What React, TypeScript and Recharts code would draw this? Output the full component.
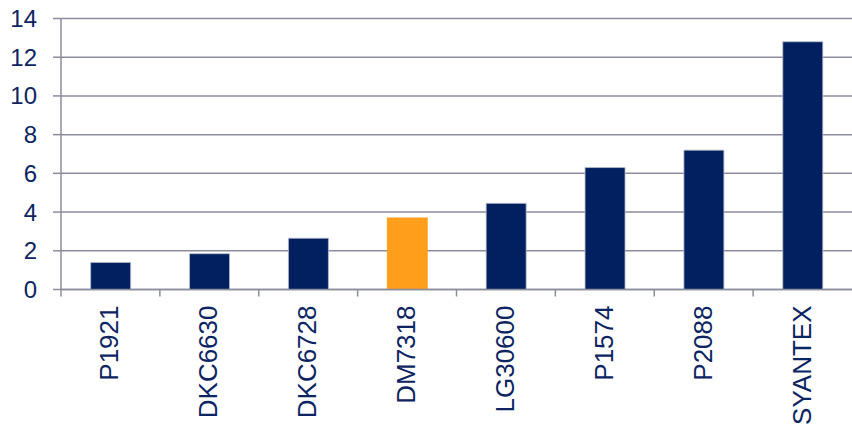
import React from "react";
import { BarChart, Bar, XAxis, YAxis, CartesianGrid, Cell } from "recharts";

const products = ["P1921", "DKC6630", "DKC6728", "DM7318", "LG30600", "P1574", "P2088", "SYANTEX"];
const values = [1.4, 1.85, 2.65, 3.7, 4.45, 6.3, 7.2, 12.8];
const highlighted = "DM7318";
const yTicks = [0, 2, 4, 6, 8, 10, 12, 14];

const NAVY = "#022060";
const ORANGE = "#FF9E1B";
const GRID = "#8b8d9d";
const TEXT = "#0c2461";
const FONT = "'Liberation Sans', Arial, sans-serif";

const data = products.map((name, i) => ({ name, value: values[i] }));

// category labels run bottom-to-top; tick marks sit on the band edges
function ProductTick(props: any) {
  const { x, y, payload } = props;
  const half = payload?.offset ?? 49.4;
  const bx = x + 8;
  const by = y + 16;
  return (
    <g>
      <line x1={x - half} y1={y} x2={x - half} y2={y + 7} stroke={GRID} strokeWidth={1.5} />
      <text
        x={bx}
        y={by}
        transform={`rotate(-90, ${bx}, ${by})`}
        textAnchor="end"
        fill={TEXT}
        fontSize={26}
        fontFamily={FONT}
      >
        {payload.value}
      </text>
    </g>
  );
}

export default function App() {
  return (
    <div style={{ position: "absolute", left: 0, top: 0, width: 852, height: 430, background: "#fff" }}>
      <BarChart
        width={852}
        height={430}
        data={data}
        margin={{ top: 18.5, right: 0, bottom: 0, left: 0 }}
        barCategoryGap="30%"
      >
        <CartesianGrid vertical={false} stroke={GRID} strokeWidth={1.5} />
        <XAxis
          dataKey="name"
          height={140.5}
          interval={0}
          axisLine={{ stroke: GRID, strokeWidth: 1.5 }}
          tickLine={false}
          tickSize={0}
          tickMargin={0}
          tick={<ProductTick />}
        />
        <YAxis
          width={61}
          domain={[0, 14]}
          ticks={yTicks}
          interval={0}
          axisLine={{ stroke: GRID, strokeWidth: 1.5 }}
          tickLine={{ stroke: GRID, strokeWidth: 1.5 }}
          tickSize={8}
          tickMargin={16}
          tick={{ fill: TEXT, fontSize: 24, fontFamily: FONT }}
        />
        <Bar dataKey="value" isAnimationActive={false} stroke="#b9bdcc" strokeWidth={0.8}>
          {data.map((d) => (
            <Cell key={d.name} fill={d.name === highlighted ? ORANGE : NAVY} stroke={d.name === highlighted ? ORANGE : "#b9bdcc"} />
          ))}
        </Bar>
      </BarChart>
    </div>
  );
}
